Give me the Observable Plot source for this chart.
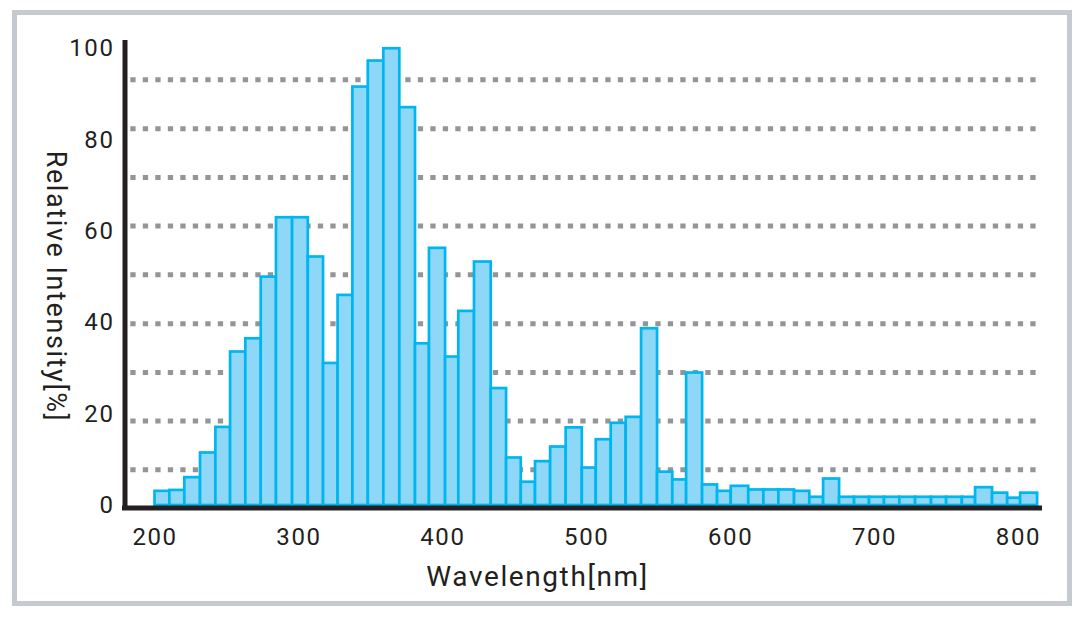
<!DOCTYPE html>
<html>
<head>
<meta charset="utf-8">
<script src="https://cdn.jsdelivr.net/npm/d3@7"></script>
<script src="https://cdn.jsdelivr.net/npm/@observablehq/plot@0.6"></script>
<style>
  html, body { margin: 0; padding: 0; background: #ffffff; }
  #frame { position: absolute; left: 12px; top: 10px; width: 1050px; height: 586px; border: 5px solid #c5cad0; }
  #chart { position: absolute; left: 0; top: 0; }
  #chart svg text { letter-spacing: 1.6px; }
</style>
</head>
<body>
<div id="frame"></div>
<div id="chart"></div>
<script>
// Bin edges (nm) of each bar (bar i spans binEdges[i]..binEdges[i+1])
const binEdges = [200, 210.3, 220.7, 231.6, 242.3, 252.5, 263.1, 273.8, 284.4, 295.6,
  306.5, 317.1, 327.2, 337.5, 348.2, 359.0, 370.1, 381.0, 390.7, 401.9,
  411.1, 422.0, 433.6, 444.3, 454.5, 464.4, 474.9, 485.7, 496.9, 506.6,
  517.0, 527.4, 538.1, 549.2, 559.8, 569.4, 580.5, 590.9, 600.4, 612.6,
  623.1, 633.5, 644.4, 655.0, 664.6, 675.7, 686.1, 696.5, 706.9, 717.6,
  728.5, 739.6, 750.1, 761.0, 770.2, 782.0, 792.5, 801.5, 813.3];

// Relative intensity (%) of each bar
const intensity = [3.1, 3.3, 6.1, 11.5, 17.1, 33.6, 36.5, 50.0, 63.0, 63.0,
  54.4, 31.1, 46.0, 91.6, 97.3, 100, 87.1, 35.4, 56.3, 32.5,
  42.5, 53.3, 25.6, 10.4, 5.1, 9.6, 12.8, 17.0, 8.2, 14.4,
  18.0, 19.3, 38.7, 7.3, 5.6, 29.0, 4.5, 3.1, 4.2, 3.4,
  3.4, 3.4, 3.1, 1.8, 5.8, 1.8, 1.8, 1.8, 1.8, 1.8,
  1.8, 1.8, 1.8, 1.8, 3.9, 2.7, 1.6, 2.7];

// Axis tick labels
const xTicks = [200, 300, 400, 500, 600, 700, 800];
const yTicks = [0, 20, 40, 60, 80, 100];
// Dotted guide lines (levels on the intensity scale, as drawn)
const gridLevels = [7.8, 18.5, 29.1, 39.8, 50.5, 61.2, 71.8, 82.5, 93.2];

const xDomain = [177.4, 816.7];
const yDomain = [0, 101.8];

const bars = intensity.map((v, i) => ({x1: binEdges[i], x2: binEdges[i + 1], v}));

const ink = "#231f20";

const chart = Plot.plot({
  width: 1085,
  height: 617,
  marginLeft: 122,
  marginRight: 43,
  marginTop: 40,
  marginBottom: 112,
  style: {fontFamily: "Roboto", fontSize: "24px", color: ink, background: "transparent", overflow: "visible"},
  x: {type: "linear", domain: xDomain},
  y: {type: "linear", domain: yDomain},
  marks: [
    Plot.ruleY(gridLevels, {stroke: "#939598", strokeWidth: 5, strokeDasharray: "5.3,7.2", insetLeft: 8.3, insetRight: 5}),
    Plot.rectY(bars, {x1: "x1", x2: "x2", y: "v", fill: "#8fd7f7", stroke: "#00b6ef", strokeWidth: 2.7}),
    Plot.ruleY([0], {stroke: ink, strokeWidth: 5, dy: 2.5}),
    Plot.ruleX([xDomain[0]], {stroke: ink, strokeWidth: 5, dx: 2.5, insetBottom: -5}),
    Plot.axisX({ticks: xTicks, tickSize: 0, tickPadding: 22, tickFormat: d => String(d), label: null, fontSize: 24}),
    Plot.axisY({ticks: yTicks, tickSize: 0, tickPadding: 8, tickFormat: d => String(d), label: null, fontSize: 24}),
    Plot.text(["Wavelength[nm]"], {frameAnchor: "bottom", textAnchor: "middle", lineAnchor: "middle", dx: -45, dy: 72, fontSize: 28, fill: ink, style: "letter-spacing:3.5px"}),
    Plot.text(["Relative Intensity[%]"], {frameAnchor: "left", textAnchor: "middle", lineAnchor: "middle", rotate: 90, dx: -67, dy: 13.5, fontSize: 27, fill: ink, style: "letter-spacing:1.8px"})
  ]
});
document.getElementById("chart").appendChild(chart);
</script>
</body>
</html>
